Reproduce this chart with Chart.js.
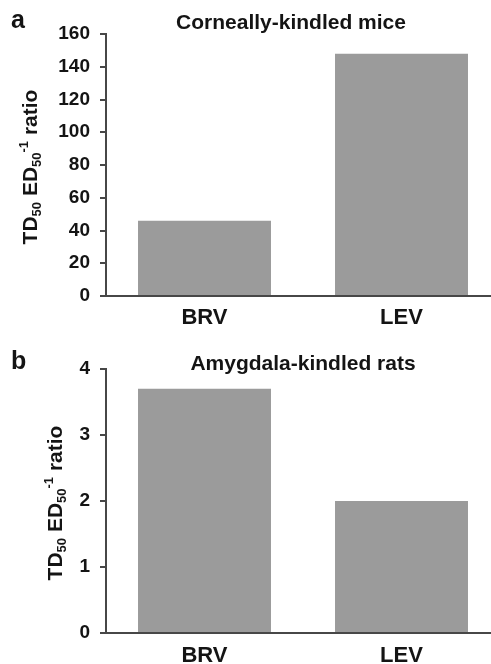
<!DOCTYPE html>
<html>
<head>
<meta charset="utf-8">
<script src="https://cdn.jsdelivr.net/npm/chart.js@4"></script>
<style>
  html, body { margin: 0; padding: 0; background: #fff; overflow: hidden; }
  .panel { position: relative; width: 500px; }
  canvas { display: block; }
</style>
</head>
<body>
<div class="panel"><canvas id="chartA" width="500" height="330"></canvas></div>
<div class="panel"><canvas id="chartB" width="500" height="334"></canvas></div>
<script>
// data
const drugs = ["BRV", "LEV"];
const miceRatio = [46, 148];
const ratsRatio = [3.7, 2.0];
const miceTicks = [0, 20, 40, 60, 80, 100, 120, 140, 160];
const ratsTicks = [0, 1, 2, 3, 4];

const FONT = "'Liberation Sans', Arial, sans-serif";
const INK = '#141414';
const AXIS = '#474747';
const BAR = '#9b9b9b';

// draws panel letter, title and the rich y axis title (sub/superscripts)
const decor = {
  id: 'decor',
  afterDraw(chart, args, opts) {
    const c = chart.ctx;
    const area = chart.chartArea;
    c.save();
    c.fillStyle = INK;
    c.textBaseline = 'alphabetic';

    c.font = 'bold 25px ' + FONT;
    c.textAlign = 'left';
    c.fillText(opts.letter, 11, opts.letterY);

    c.font = 'bold 21px ' + FONT;
    c.textAlign = 'center';
    c.fillText(opts.title, opts.titleX, opts.titleY);

    // y axis title, rotated
    const parts = [
      { t: 'TD', size: 21, dy: 0 },
      { t: '50', size: 13, dy: 4 },
      { t: ' ED', size: 21, dy: 0 },
      { t: '50', size: 13, dy: 4 },
      { t: '-1', size: 13, dy: -9 },
      { t: ' ratio', size: 21, dy: 0 }
    ];
    let total = 0;
    parts.forEach(p => {
      c.font = 'bold ' + p.size + 'px ' + FONT;
      p.w = c.measureText(p.t).width;
      total += p.w;
    });
    c.translate(opts.yTitleX, (area.top + area.bottom) / 2 + 2);
    c.rotate(-Math.PI / 2);
    c.textAlign = 'left';
    let x = -total / 2;
    parts.forEach(p => {
      c.font = 'bold ' + p.size + 'px ' + FONT;
      c.fillText(p.t, x, p.dy);
      x += p.w;
    });
    c.restore();
  }
};

function makeChart(id, values, ticks, padTop, xHeight, xPad, decorOpts) {
  const maxVal = ticks[ticks.length - 1];
  return new Chart(document.getElementById(id), {
    type: 'bar',
    data: {
      labels: drugs,
      datasets: [{
        data: values,
        backgroundColor: BAR,
        borderWidth: 0,
        barPercentage: 0.675,
        categoryPercentage: 1
      }]
    },
    options: {
      responsive: false,
      animation: false,
      layout: { padding: { top: padTop, bottom: 0, left: 0, right: 0 } },
      plugins: {
        legend: { display: false },
        tooltip: { enabled: false },
        decor: decorOpts
      },
      scales: {
        x: {
          afterFit(scale) { scale.height = xHeight; },
          grid: { display: false, drawTicks: false },
          border: { color: AXIS, width: 2 },
          ticks: {
            color: INK,
            padding: xPad,
            font: { family: FONT, size: 22, weight: 'bold' }
          }
        },
        y: {
          min: 0,
          max: maxVal,
          afterFit(scale) { scale.width = 106; },
          afterBuildTicks(scale) { scale.ticks = ticks.map(v => ({ value: v })); },
          grid: { drawOnChartArea: false, drawTicks: true, tickLength: 6, color: AXIS, lineWidth: 2 },
          border: { color: AXIS, width: 2 },
          ticks: {
            color: INK,
            padding: 10,
            font: { family: FONT, size: 19, weight: 'bold' }
          }
        }
      }
    },
    plugins: [decor]
  });
}

makeChart('chartA', miceRatio, miceTicks, 34, 34, 9,
  { letter: 'a', letterY: 28, title: 'Corneally-kindled mice', titleX: 291, titleY: 29, yTitleX: 37 });

makeChart('chartB', ratsRatio, ratsTicks, 39, 31, 10,
  { letter: 'b', letterY: 39, title: 'Amygdala-kindled rats', titleX: 303, titleY: 40, yTitleX: 62 });
</script>
</body>
</html>
